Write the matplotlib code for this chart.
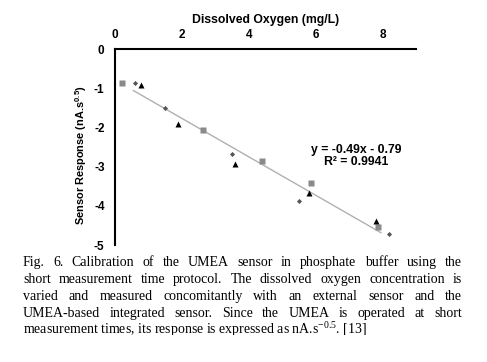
import matplotlib
matplotlib.use("Agg")
import matplotlib.pyplot as plt
from matplotlib.patches import Rectangle

plt.rcParams['font.family'] = ['Liberation Sans', 'DejaVu Sans']
plt.rcParams['axes.unicode_minus'] = False
plt.rcParams['mathtext.fontset'] = 'custom'
plt.rcParams['mathtext.rm'] = 'Liberation Serif'
plt.rcParams['mathtext.bf'] = 'Liberation Sans:bold'

# series
sq_x = [0.2, 2.63, 4.4, 5.87, 7.87]
sq_y = [-0.87, -2.06, -2.85, -3.41, -4.55]
dia_x = [0.6, 1.5, 3.5, 5.5, 8.2]
dia_y = [-0.86, -1.5, -2.67, -3.87, -4.73]
tri_x = [0.78, 1.89, 3.6, 5.8, 7.8]
tri_y = [-0.92, -1.91, -2.93, -3.67, -4.38]

# linear fit shown on chart
slope, intercept = -0.49, -0.79
fit_x = [0.55, 7.95]

x_ticks = [0, 2, 4, 6, 8]
y_ticks = [0, -1, -2, -3, -4, -5]

caption_lines = [
    "Fig. 6. Calibration of the UMEA sensor in phosphate buffer using the",
    "short measurement time protocol. The dissolved oxygen concentration is",
    "varied and measured concomitantly with an external sensor and the",
    "UMEA-based integrated sensor. Since the UMEA is operated at short",
]
caption_last = r"measurement times, its response is expressed as nA.s$^{\mathrm{-0.5}}$. [13]"

W, H = 487, 362
fig = plt.figure(figsize=(W / 100, H / 100), dpi=100)
ax = fig.add_axes([115 / W, 1 - 245 / H, (416 - 115) / W, (245 - 49) / H])

ax.plot(fit_x, [slope * x + intercept for x in fit_x], color='#b0b0b0', lw=1.0, zorder=1)
ax.plot(sq_x, sq_y, 's', color='#8a8a8a', ms=4.5, mec='none', zorder=2)
ax.plot(dia_x, dia_y, 'D', color='#555555', ms=2.6, mec='none', zorder=3)
ax.plot(tri_x, tri_y, '^', color='black', ms=3.8, mec='none', zorder=3)

ax.set_xlim(0, 9)
ax.set_ylim(-5, 0)
ax.xaxis.set_ticks_position('top')
ax.xaxis.set_label_position('top')
ax.set_xticks(x_ticks)
ax.set_yticks(y_ticks)
ax.tick_params(length=0, labelsize=8.5)
ax.tick_params(axis='x', pad=6)
ax.tick_params(axis='y', pad=7.5)
for lab in ax.get_xticklabels() + ax.get_yticklabels():
    lab.set_fontweight('bold')
for side in ['right', 'bottom']:
    ax.spines[side].set_visible(False)
for side in ['left', 'top']:
    ax.spines[side].set_linewidth(1.5)

ax.set_xlabel('Dissolved Oxygen (mg/L)', fontsize=8.8, fontweight='bold', labelpad=4)
ax.set_ylabel(r'Sensor Response (nA.s$^{\mathbf{0.5}}$)', fontsize=7.9, fontweight='bold')
ax.yaxis.set_label_coords(-26 / 301, 0.46)

ax.text(7.2, -2.73, 'y = -0.49x - 0.79\nR\u00b2 = 0.9941', ha='center', va='center',
        fontsize=8.8, fontweight='bold', linespacing=1.1)

# caption, justified word by word
renderer = fig.canvas.get_renderer()
x_left, x_right = 23, 462
base0, step = 265.7, 17.1
cap_kw = dict(fontsize=10, family='Liberation Serif', va='baseline', ha='left')
for i, line in enumerate(caption_lines):
    words = line.split(' ')
    y = 1 - (base0 + i * step) / H
    texts = [fig.text(0, y, w, **cap_kw) for w in words]
    widths = [t.get_window_extent(renderer).width for t in texts]
    gap = (x_right - x_left - sum(widths)) / (len(words) - 1)
    x = x_left
    for t, w in zip(texts, widths):
        t.set_x(x / W)
        x += w + gap
fig.text(x_left / W, 1 - (base0 + 4 * step) / H, caption_last, **cap_kw)

# the source image is cut just under the last caption line
fig.patches.append(Rectangle((0, 0), 1, 1 - 335 / H, transform=fig.transFigure,
                             facecolor='white', edgecolor='none', zorder=10))

fig.savefig('out.png', dpi=100)
